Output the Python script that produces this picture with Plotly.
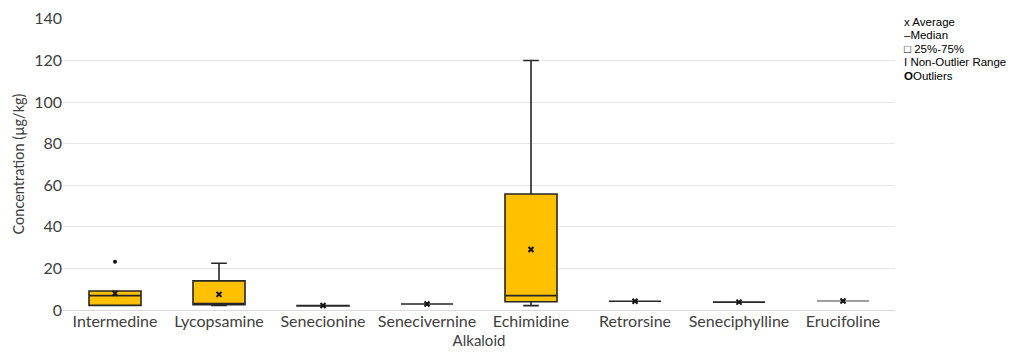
import plotly.graph_objects as go

categories = ["Intermedine", "Lycopsamine", "Senecionine", "Senecivernine",
              "Echimidine", "Retrorsine", "Seneciphylline", "Erucifoline"]
q1_vals = [2.2, 2.6, 1.9, 2.9, 4.0, 4.2, 3.8, 4.3]
median_vals = [6.9, 2.9, 2.0, 2.9, 6.9, 4.2, 3.8, 4.3]
q3_vals = [9.1, 14.0, 2.1, 2.9, 55.8, 4.2, 3.8, 4.3]
lower_vals = [2.2, 2.2, 1.9, 2.9, 2.1, 4.2, 3.8, 4.3]
upper_vals = [9.1, 22.5, 2.1, 2.9, 120.0, 4.2, 3.8, 4.3]
mean_vals = [8.0, 7.5, 2.2, 2.9, 29.1, 4.2, 3.8, 4.3]
outlier_x = ["Intermedine"]
outlier_y = [23.2]

legend_lines = ["x Average", "\u2013Median", "\u25a1 25%-75%", "I Non-Outlier Range", "<b>O</b>Outliers"]

fig = go.Figure()
for i, c in enumerate(categories):
    lc = "#7f7f7f" if c == "Erucifoline" else "#262626"
    fig.add_trace(go.Box(
        x=[c], q1=[q1_vals[i]], median=[median_vals[i]], q3=[q3_vals[i]],
        lowerfence=[lower_vals[i]], upperfence=[upper_vals[i]],
        fillcolor="#FFC000", line=dict(color=lc, width=1.6),
        width=0.5, whiskerwidth=0.3, showlegend=False, hoverinfo="skip",
    ))

fig.add_trace(go.Scatter(x=categories, y=mean_vals, mode="markers",
                         marker=dict(symbol="x-thin", size=5, color="#111",
                                     line=dict(width=2, color="#111")),
                         showlegend=False, hoverinfo="skip"))
fig.add_trace(go.Scatter(x=outlier_x, y=outlier_y, mode="markers",
                         marker=dict(symbol="circle", size=4, color="#111"),
                         showlegend=False, hoverinfo="skip"))

# page body adds an 8px offset; figure is sized so the plot lands where the reference has it
fig.update_layout(
    width=1009, height=346,
    margin=dict(l=55, r=122, t=10, b=44),
    plot_bgcolor="white", paper_bgcolor="white",
    boxmode="overlay",
    font=dict(family="Lato, Open Sans, sans-serif", color="#404040"),
    xaxis=dict(categoryorder="array", categoryarray=categories, range=[-0.5, 7.5],
               showgrid=False, showline=False, zeroline=False, automargin=False,
               tickfont=dict(size=16, color="#404040"),
               title=dict(text="Alkaloid", font=dict(size=15, color="#404040"), standoff=6)),
    yaxis=dict(range=[0, 140.4], tickvals=[0, 20, 40, 60, 80, 100, 120, 140],
               showgrid=True, gridcolor="#e6e6e6",
               zeroline=True, zerolinecolor="#d9d9d9", zerolinewidth=1,
               showline=False, ticks="", automargin=False, ticklabeloverflow="allow",
               tickfont=dict(size=16, color="#404040"),
               title=dict(text="Concentration (\u00b5g/kg)", font=dict(size=14.5, color="#404040"), standoff=6)),
)

ys = [22, 35, 49, 62, 76]
for txt, yp in zip(legend_lines, ys):
    fig.add_annotation(text=txt, xref="paper", yref="paper",
                       x=(902 - 63) / 832, y=(310 - yp) / 292,
                       xanchor="left", yanchor="middle", showarrow=False,
                       font=dict(family="Liberation Sans, Arial", size=11.5, color="#000"))

fig.write_html("out.html")
